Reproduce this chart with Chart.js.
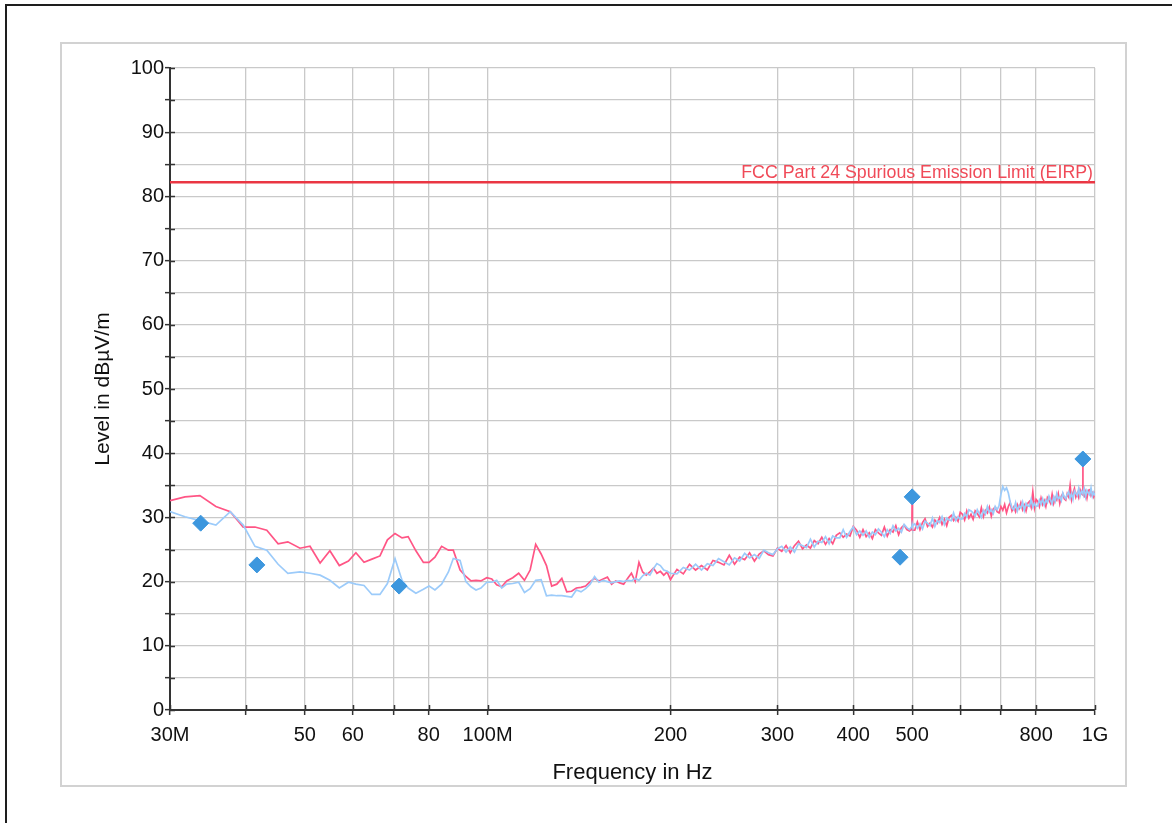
<!DOCTYPE html>
<html>
<head>
<meta charset="utf-8">
<script src="https://cdn.jsdelivr.net/npm/chart.js@4.4.1/dist/chart.umd.min.js"></script>
<style>
html, body { margin:0; padding:0; background:#fff; overflow:hidden; }
body { width:1172px; height:823px; position:relative; }
#frame { position:absolute; left:5px; top:4px; width:1300px; height:1000px; border:2px solid #1e1e1e; box-sizing:border-box; }
#panel { position:absolute; left:60px; top:42px; width:1067px; height:745px; border:2px solid #d2d2d2; box-sizing:border-box; }
canvas { position:absolute; left:0; top:0; }
</style>
</head>
<body>
<div id="frame"></div>
<div id="panel"></div>
<canvas id="EmissionChart" width="1172" height="823"></canvas>
<script>
// frequency grid in MHz (shared by both traces)
const freqMHz = [
  30.0, 31.75, 33.6, 35.7, 37.7, 39.6, 41.4, 43.3, 45.2, 46.9, 49.1, 51.0, 53.0, 55.0, 57.0, 59.0,
  60.7, 62.6, 64.5, 66.5, 68.4, 70.4, 72.3, 74.0, 76.2, 78.4, 80.1, 81.9, 84.0, 86.2, 87.8, 90.1,
  92.1, 93.9, 95.7, 97.5, 99.7, 101.6, 103.5, 105.5, 107.5,
  110, 112.5, 115, 117.5, 120, 122.5, 125, 127.5, 130, 132.5, 135, 137.5, 140, 142.5, 145, 147.5,
  150, 152.5, 155, 157.5, 160, 162.5, 165, 167.5, 170, 172.5, 175, 177.5, 180, 182.5, 185, 187.5,
  190, 192.5, 195, 197.5, 200,
  205, 210, 215, 220, 225, 230, 235, 240, 245, 250, 255, 260, 265, 270, 275, 280, 285, 290, 295, 300,
  305, 310, 315, 320, 325, 330, 335, 340, 345, 350, 355, 360, 365, 370, 375, 380, 385, 390, 395, 400,
  405, 410, 415, 420, 425, 430, 435, 440, 445, 450, 455, 460, 465, 470, 475, 480, 485, 490, 495,
  499.5, 500, 500.5,
  505, 510, 515, 520, 525, 530, 535, 540, 545, 550, 555, 560, 565, 570, 575, 580, 585, 590, 595, 600,
  605, 610, 615, 620, 625, 630, 635, 640, 645, 650, 655, 660, 665, 670, 675, 680, 685, 690, 695, 700,
  705, 710, 715, 720, 725, 730, 735, 740, 745, 750, 755, 760, 765, 770, 775, 780, 785, 790, 795, 800,
  805, 810, 815, 820, 825, 830, 835, 840, 845, 850, 855, 860, 865, 870, 875, 880, 885, 890, 895, 900,
  905, 910, 915, 920, 925, 930, 935, 940, 945, 950,
  954.5, 955, 955.5,
  960, 965, 970, 975, 980, 985, 990, 995, 1000
];

// red trace (dBuV/m)
const levelRed = [
  32.6, 33.2, 33.4, 31.7, 30.9, 28.5, 28.5, 28.0, 25.9, 26.2, 25.2, 25.5, 22.9, 24.8, 22.5, 23.2,
  24.5, 23.0, 23.5, 24.0, 26.5, 27.5, 26.8, 27.0, 24.8, 23.0, 23.0, 23.8, 25.5, 24.9, 24.9, 21.8,
  20.8, 20.1, 20.2, 20.1, 20.6, 20.4, 19.5, 19.2, 20.1,
  20.6, 21.3, 20.2, 21.8, 25.8, 24.3, 22.5, 19.3, 19.6, 20.5, 18.4, 18.5, 19.0, 19.1, 19.3, 20.0,
  20.5, 20.1, 20.4, 20.7, 19.6, 20.1, 19.8, 19.6, 20.5, 21.3, 20.0, 23.0, 21.5, 21.0, 21.5, 22.1,
  21.3, 21.6, 21.0, 21.5, 20.3,
  21.9, 21.2, 22.7, 21.8, 22.5, 21.8, 23.3, 23.0, 22.6, 24.1, 22.7, 23.8, 23.4, 24.5, 23.2, 24.3, 24.8, 24.2, 24.0, 25.2,
  24.7, 25.6, 24.5, 25.6, 26.3, 25.1, 25.7, 25.2, 26.4, 25.9, 26.9, 25.8, 26.7, 25.9, 27.2, 27.6, 26.9, 27.4, 27.1, 28.6,
  28.0, 26.9, 28.1, 27.0, 27.6, 26.7, 28.1, 27.6, 27.2, 28.5, 27.1, 28.1, 27.7, 28.7, 27.3, 28.4, 28.8, 28.1, 27.9,
  28.3, 33.2, 28.0,
  28.0, 29.3, 28.1, 29.2, 29.8, 28.6, 29.1, 28.5, 29.6, 29.1, 30.0, 28.9, 29.7, 28.7, 30.0, 30.3, 29.5, 30.0, 29.4, 30.8,
  30.5, 29.6, 31.0, 29.9, 30.5, 29.7, 31.0, 30.6, 30.1, 31.5, 30.1, 31.1, 30.7, 31.6, 30.2, 31.3, 31.6, 30.9, 30.7, 31.7,
  31.1, 32.0, 30.7, 31.7, 32.3, 31.0, 31.6, 30.9, 32.0, 31.4, 32.3, 31.2, 31.9, 31.0, 32.2, 32.5, 31.6, 34.0, 31.5, 32.8,
  32.5, 31.7, 33.0, 32.0, 32.6, 31.7, 33.1, 32.7, 32.2, 33.6, 32.2, 33.1, 32.7, 33.7, 32.2, 33.3, 33.7, 32.9, 32.7, 33.7,
  33.2, 35.0, 32.8, 33.8, 34.5, 33.2, 33.8, 33.1, 34.3, 33.7,
  33.5, 38.9, 33.6,
  33.3, 34.0, 33.0, 34.2, 34.3, 33.4, 33.8, 33.2, 34.0
];

// light blue trace (dBuV/m)
const levelBlue = [
  30.9, 30.1, 29.5, 28.8, 30.9, 28.8, 25.5, 24.9, 22.7, 21.3, 21.5, 21.3, 21.0, 20.2, 19.0, 19.9,
  19.6, 19.4, 18.0, 18.0, 19.7, 23.6, 20.2, 19.0, 18.2, 18.8, 19.3, 18.7, 19.6, 21.5, 23.6, 23.3,
  20.0, 19.2, 18.7, 19.0, 19.9, 19.9, 20.2, 19.0, 19.6,
  19.7, 19.9, 18.3, 18.9, 20.2, 20.3, 17.8, 17.9, 17.8, 17.8, 17.7, 17.6, 18.7, 18.4, 18.9, 19.6,
  20.8, 19.9, 20.2, 20.0, 19.8, 20.0, 20.1, 20.0, 20.2, 20.1, 20.5, 20.2, 20.9, 21.3, 21.0, 22.0,
  22.8, 22.5, 21.8, 21.6, 21.3,
  21.2, 22.2, 21.8, 22.7, 21.8, 22.8, 22.5, 23.6, 23.1, 22.6, 23.7, 23.2, 24.4, 23.7, 24.2, 23.6, 24.9, 24.5, 24.2, 25.1,
  25.5, 24.6, 25.4, 24.6, 25.9, 25.6, 25.3, 26.6, 25.4, 26.3, 26.1, 27.0, 25.9, 27.1, 26.8, 26.8, 28.1, 26.9, 27.8, 28.5,
  27.3, 27.9, 27.2, 27.9, 26.9, 27.7, 27.3, 28.2, 27.7, 27.0, 28.1, 27.5, 28.7, 27.9, 28.3, 27.7, 28.9, 28.4, 28.1,
  28.6, 28.9, 28.7,
  29.0, 28.3, 29.0, 28.2, 29.4, 29.1, 28.7, 29.9, 28.6, 29.5, 29.2, 30.1, 28.9, 29.9, 29.6, 29.5, 30.7, 29.5, 30.1, 29.7,
  29.8, 30.6, 30.1, 31.2, 31.0, 30.7, 30.2, 31.2, 30.6, 30.0, 31.1, 30.5, 31.7, 30.8, 31.2, 30.6, 31.7, 31.2, 31.8, 33.6,
  34.8, 34.2, 34.6, 33.8, 32.4, 31.5, 31.2, 32.3, 31.0, 31.8, 31.5, 32.4, 31.1, 32.2, 31.8, 31.7, 32.8, 31.6, 32.2, 31.7,
  31.8, 32.7, 32.1, 32.9, 31.9, 32.7, 32.3, 33.3, 32.7, 32.1, 33.2, 32.5, 33.7, 32.9, 33.2, 32.6, 33.8, 33.2, 32.9, 33.6,
  34.0, 33.0, 33.7, 32.8, 34.1, 33.7, 33.4, 34.5, 33.3, 34.1,
  33.8, 33.7, 33.9,
  34.5, 33.2, 34.2, 33.8, 33.5, 34.6, 33.3, 33.9, 33.4
];

// final measurement markers
const finalFreq = [33.7, 41.7, 71.5, 477.6, 500, 955];
const finalLevel = [29.1, 22.6, 19.3, 23.8, 33.2, 39.1];

// limit line
const limitFreq = [30, 1000];
const limitLevel = [82.2, 82.2];
const limitText = 'FCC Part 24 Spurious Emission Limit (EIRP)';

// axis ticks
const xTickValues = [30, 40, 50, 60, 70, 80, 100, 200, 300, 400, 500, 600, 700, 800, 1000];
const xTickLabels = ['30M', '', '50', '60', '', '80', '100M', '200', '300', '400', '500', '', '', '800', '1G'];

const fontFamily = '"Liberation Sans", Arial, Helvetica, sans-serif';
Chart.defaults.font.family = fontFamily;
Chart.defaults.color = '#111';

function toPoints(xs, ys) {
    return xs.map((f, i) => ({x: f, y: ys[i]}));
}

const limitLabelPlugin = {
    id: 'limitLabel',
    afterDraw(chart) {
        const ctx = chart.ctx;
        const area = chart.chartArea;
        const xs = chart.scales.x;
        const ys = chart.scales.y;
        ctx.save();
        // tick stubs on the inside of the axes
        ctx.strokeStyle = '#333';
        ctx.lineWidth = 1.5;
        ctx.beginPath();
        ys.ticks.forEach(t => {
            const y = Math.round(ys.getPixelForValue(t.value)) + 0.5;
            ctx.moveTo(area.left, y);
            ctx.lineTo(area.left + 5, y);
        });
        xs.ticks.forEach(t => {
            const x = Math.round(xs.getPixelForValue(t.value)) + 0.5;
            ctx.moveTo(x, area.bottom);
            ctx.lineTo(x, area.bottom - 5);
        });
        ctx.stroke();
        // limit label
        ctx.fillStyle = '#f04a58';
        ctx.font = '17.8px ' + fontFamily;
        ctx.textAlign = 'right';
        ctx.textBaseline = 'alphabetic';
        ctx.fillText(limitText, area.right - 2, ys.getPixelForValue(limitLevel[0]) - 4);
        ctx.restore();
    }
};

const chart_config = {
    type: 'line',
    data: {
        datasets: [
            {
                label: 'Final',
                type: 'scatter',
                data: toPoints(finalFreq, finalLevel),
                showLine: false,
                pointStyle: 'rectRot',
                pointRadius: 8,
                pointBorderWidth: 1,
                backgroundColor: '#3d97de',
                borderColor: '#3d97de',
                order: 0
            },
            {
                label: 'Limit',
                data: toPoints(limitFreq, limitLevel),
                borderColor: '#ea3643',
                borderWidth: 2.5,
                pointRadius: 0,
                order: 1
            },
            {
                label: 'Blue',
                data: toPoints(freqMHz, levelBlue),
                borderColor: '#9ccbfa',
                borderWidth: 1.7,
                pointRadius: 0,
                tension: 0,
                order: 2
            },
            {
                label: 'Red',
                data: toPoints(freqMHz, levelRed),
                borderColor: '#ff5585',
                borderWidth: 1.7,
                pointRadius: 0,
                tension: 0,
                order: 3
            }
        ]
    },
    options: {
        responsive: false,
        devicePixelRatio: 1,
        animation: false,
        layout: {
            padding: {left: 0, right: 77, top: 68, bottom: 0}
        },
        scales: {
            x: {
                type: 'logarithmic',
                min: 30,
                max: 1000,
                afterBuildTicks: (scale) => {
                    scale.ticks = xTickValues.map(v => ({value: v}));
                },
                afterFit: (scale) => { scale.height = 113; },
                border: {display: true, color: '#333', width: 2},
                grid: {color: '#c9c9c9', lineWidth: 1.3, tickColor: '#333', tickLength: 5, tickWidth: 1.5},
                ticks: {
                    autoSkip: false,
                    maxRotation: 0,
                    padding: 8,
                    color: '#111',
                    font: {size: 20},
                    callback: (value) => {
                        const i = xTickValues.indexOf(value);
                        return i >= 0 ? xTickLabels[i] : '';
                    }
                },
                title: {
                    display: true,
                    text: 'Frequency in Hz',
                    color: '#111',
                    font: {size: 22},
                    padding: {top: 0, bottom: 37}
                }
            },
            y: {
                min: 0,
                max: 100,
                afterFit: (scale) => { scale.width = 170; },
                border: {display: true, color: '#333', width: 2},
                grid: {color: '#c9c9c9', lineWidth: 1.3, tickColor: '#333', tickLength: 5, tickWidth: 1.5},
                ticks: {
                    stepSize: 5,
                    padding: 1,
                    color: '#111',
                    font: {size: 20},
                    callback: (value) => (value % 10 === 0 ? value : '')
                },
                title: {
                    display: true,
                    text: 'Level in dBµV/m',
                    color: '#111',
                    font: {size: 21},
                    padding: {top: 91, bottom: 0}
                }
            }
        },
        plugins: {
            legend: {display: false},
            title: {display: false},
            tooltip: {enabled: false}
        }
    },
    plugins: [limitLabelPlugin]
};

new Chart(document.getElementById('EmissionChart'), chart_config);
</script>
</body>
</html>
